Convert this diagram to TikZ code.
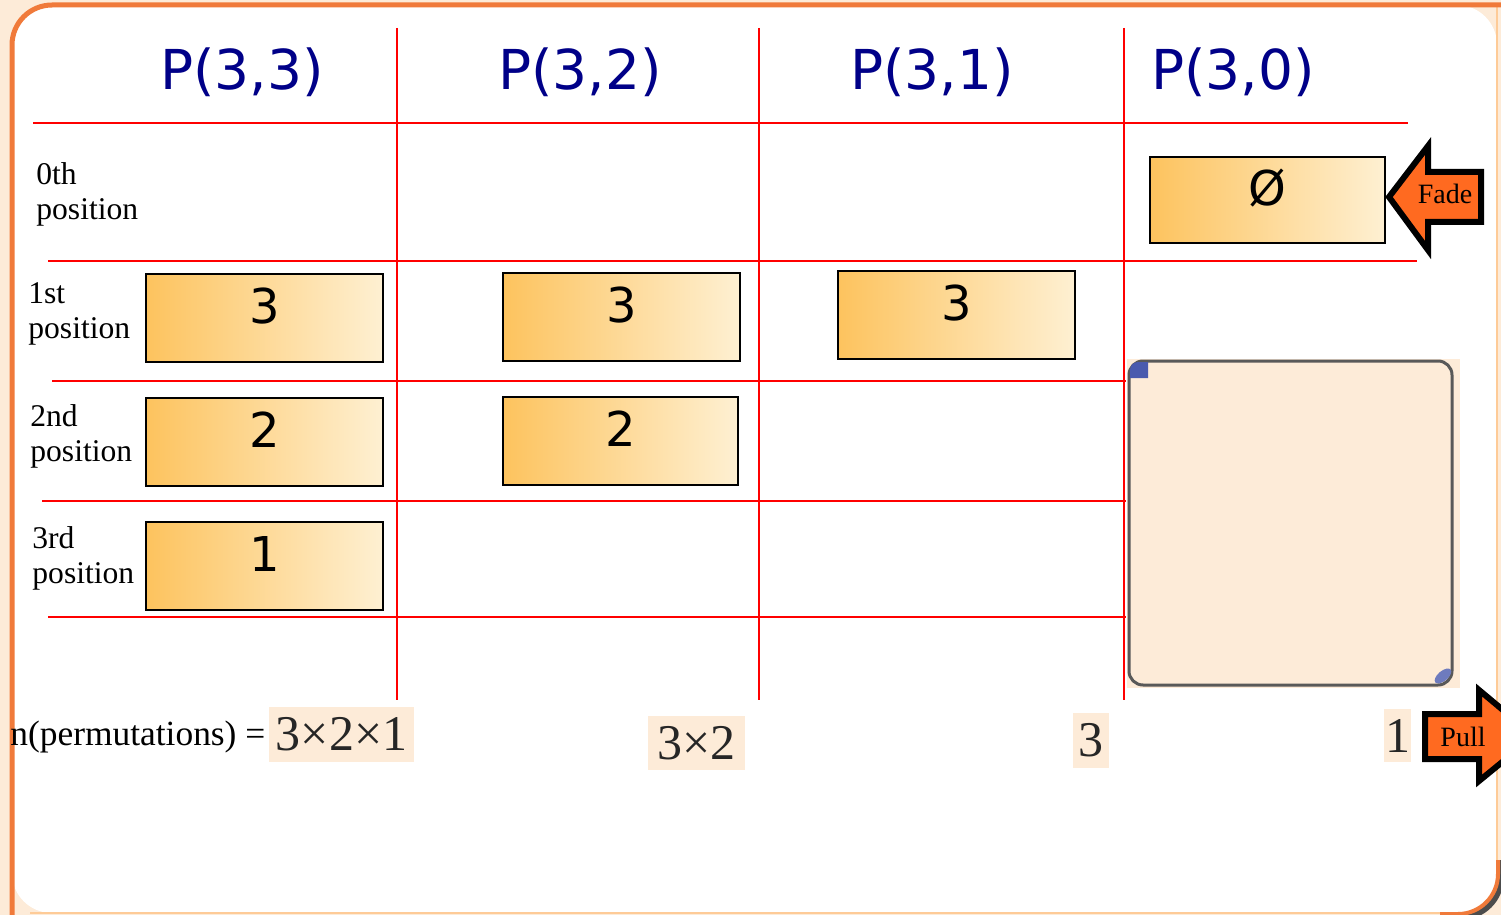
\documentclass[tikz,border=0pt]{standalone}
\usepackage{fontspec}
\setmainfont{Liberation Serif}
\newfontfamily\comicfont{DejaVu Sans}
\usetikzlibrary{shapes.geometric}
\definecolor{peach}{HTML}{FDEBD8}
\definecolor{frameorange}{HTML}{F07A3A}
\definecolor{navyhead}{HTML}{000088}
\definecolor{boxL}{HTML}{FDC35E}
\definecolor{boxR}{HTML}{FEF0D2}
\definecolor{arroworange}{HTML}{FF6A20}
\definecolor{gridred}{HTML}{FF0000}
\definecolor{cornerblue}{HTML}{4A5AAE}
\tikzset{
  x=0.5pt, y=-0.5pt,
  gridline/.style={draw=gridred, line width=1pt},
  header/.style={text=navyhead, font=\comicfont\fontsize{27.5}{33}\selectfont, inner sep=0pt},
  rowlabel/.style={anchor=west, align=left, inner sep=0pt, font=\fontsize{15.8}{17.5}\selectfont},
  numbox/.style={draw=black, line width=1pt, left color=boxL, right color=boxR,
    minimum width=118.5pt, minimum height=44pt, inner sep=0pt,
    font=\comicfont\fontsize{24}{28}\selectfont, text height=17.5pt, text depth=12pt},
  prodbox/.style={fill=peach, inner sep=0pt, text=black!85, font=\fontsize{25}{28}\selectfont},
  bigarrow/.style={draw=black, fill=arroworange, line width=3pt, line join=miter},
  arrowtext/.style={font=\fontsize{14}{16}\selectfont, inner sep=0pt}
}
\begin{document}
\begin{tikzpicture}
\clip (0,0) rectangle (1501,915);
% background and frame
\fill[peach] (0,0) rectangle (1501,915);
\fill[white, rounded corners=20pt] (12,5) rectangle (1497,913);
\draw[peach!70!orange, line width=0.8pt] (1497,5) -- (1497,870);
\draw[peach!70!orange, line width=0.8pt] (30,913) -- (1450,913);
\draw[frameorange, line width=2.5pt, rounded corners=20pt] (12,930) -- (12,5) -- (1520,5);
\draw[black!70, line width=3pt, rounded corners=20pt] (1501,860) -- (1501,917) -- (1440,917);
\draw[frameorange, line width=2pt, rounded corners=20pt] (1498,860) -- (1498,914) -- (1440,914);

% grid lines
\coordinate (v1t) at (397,28);  \coordinate (v1b) at (397,700);
\coordinate (v2t) at (759,28);  \coordinate (v2b) at (759,700);
\coordinate (v3t) at (1124,28); \coordinate (v3b) at (1124,700);
\draw[gridline] (v1t) -- (v1b);
\draw[gridline] (v2t) -- (v2b);
\draw[gridline] (v3t) -- (v3b);
\coordinate (h0l) at (33,123);  \coordinate (h0r) at (1408,123);
\coordinate (h1l) at (48,261);  \coordinate (h1r) at (1417,261);
\coordinate (h2l) at (52,381);  \coordinate (h2r) at (1126,381);
\coordinate (h3l) at (42,501);  \coordinate (h3r) at (1126,501);
\coordinate (h4l) at (48,617);  \coordinate (h4r) at (1126,617);
\draw[gridline] (h0l) -- (h0r);
\draw[gridline] (h1l) -- (h1r);
\draw[gridline] (h2l) -- (h2r);
\draw[gridline] (h3l) -- (h3r);
\draw[gridline] (h4l) -- (h4r);

% headers
\node[header] (p33) at (242,72) {P(3,3)};
\node[header] (p32) at (580,72) {P(3,2)};
\node[header] (p31) at (932,72) {P(3,1)};
\node[header] (p30) at (1233,72) {P(3,0)};

% row labels
\node[rowlabel] (r0) at (36,194) {0th\\position};
\node[rowlabel] (r1) at (28,314) {1st\\position};
\node[rowlabel] (r2) at (30,436) {2nd\\position};
\node[rowlabel] (r3) at (32,558) {3rd\\position};

% number boxes
\node[numbox] (a1) at (264.5,318) {3};
\node[numbox] (a2) at (264.5,442) {2};
\node[numbox] (a3) at (264.5,566) {1};
\node[numbox] (b1) at (621.5,317) {3};
\node[numbox, minimum width=117.5pt] (b2) at (620.5,441) {2};
\node[numbox] (c1) at (956.5,315) {3};
\node[numbox, minimum width=117.5pt, minimum height=43pt] (d0) at (1267.5,200) {Ø};

% Fade arrow (left-pointing)
\draw[bigarrow] (1389,197) -- (1428,146) -- (1428,172) -- (1481,172) -- (1481,222) -- (1428,222) -- (1428,250) -- cycle;
\node[arrowtext] (fade) at (1445,194) {Fade};

% big rounded box
\fill[peach] (1127,359) rectangle (1460,688);
\draw[black!65, line width=1.5pt, rounded corners=7pt] (1129,361) rectangle (1452,685);
\fill[cornerblue] (1130,378) [rounded corners=4pt] -- (1130,362) [sharp corners] -- (1148,362) -- (1148,378) -- cycle;
\fill[cornerblue!80!white, rotate around={40:(1443,676)}] (1443,676) ellipse (5pt and 2.5pt);

% bottom labels
\node[anchor=west, inner sep=0pt, font=\fontsize{17.7}{20}\selectfont] (nperm) at (10,737) {n(permutations) =};
\node[prodbox, minimum width=72.5pt, minimum height=27.5pt] (f1) at (341.5,734.5) {3×2×1};
\node[prodbox, minimum width=48.5pt, minimum height=27pt] (f2) at (696.5,743) {3×2};
\node[prodbox, minimum width=18pt, minimum height=27.5pt] (f3) at (1091,740.5) {3};
\node[prodbox, minimum width=13.5pt, minimum height=26.5pt] (f4) at (1397.5,735.5) {1};

% Pull arrow (right-pointing)
\draw[bigarrow] (1425,714) -- (1479,714) -- (1479,690) -- (1534,736) -- (1479,781) -- (1479,759) -- (1425,759) -- cycle;
\node[arrowtext] (pull) at (1463,737) {Pull};
\end{tikzpicture}
\end{document}
